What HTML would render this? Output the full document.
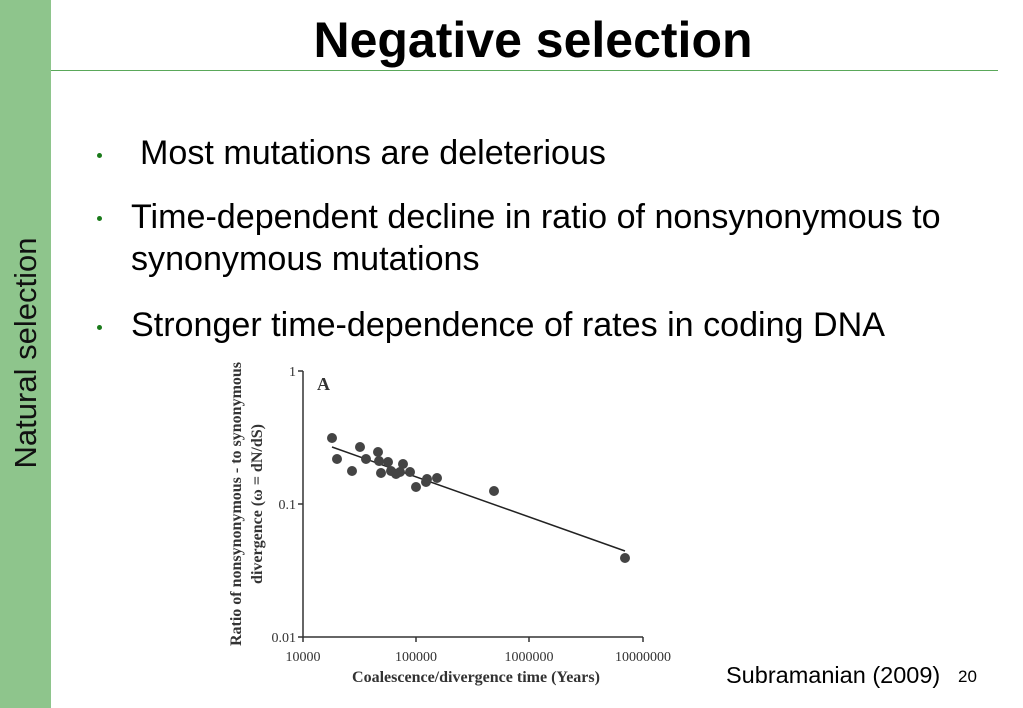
<!DOCTYPE html>
<html><head><meta charset="utf-8"><style>
body{margin:0;width:1023px;height:708px;position:relative;background:#fff;font-family:"Liberation Sans",Arial,sans-serif;overflow:hidden}
.side{position:absolute;left:0;top:0;width:51px;height:708px;background:#8ec58c}
.vt{position:absolute;left:26px;top:353px;transform:translate(-50%,-50%) rotate(-90deg);font-size:31px;white-space:nowrap;color:#111}
.hl{position:absolute;left:51px;top:70px;width:947px;height:1px;background:#5aa85a}
.t{position:absolute;top:12px;left:51px;width:964px;text-align:center;font-weight:bold;font-size:50px;line-height:56px}
.b{position:absolute;font-size:34.1px;line-height:42px;color:#000;white-space:nowrap}
.dot{position:absolute;width:5px;height:5px;border-radius:50%;background:#1a7a1a}
.s{position:absolute;font-size:23.5px}
</style></head><body>
<div class="side"></div><div class="vt">Natural selection</div>
<div class="t">Negative selection</div>
<div class="hl"></div>
<div class="dot" style="left:97px;top:153px"></div>
<div class="b" style="left:140px;top:132px">Most mutations are deleterious</div>
<div class="dot" style="left:97px;top:216px"></div>
<div class="b" style="left:131px;top:196px">Time-dependent decline in ratio of nonsynonymous to<br>synonymous mutations</div>
<div class="dot" style="left:97px;top:325px"></div>
<div class="b" style="left:131px;top:304px">Stronger time-dependence of rates in coding DNA</div>
<svg style="position:absolute;left:0;top:0" width="1023" height="708" font-family="Liberation Serif,serif">
<g stroke="#333" stroke-width="1.5" fill="none">
<path d="M303 371V637H643"/>
<path d="M298 371H303M298 504H303M298 637H303M303 637v5M416 637v5M529 637v5M643 637v5"/>
<path d="M332 447L625 551" stroke="#222"/>
</g>
<g font-size="14" fill="#333" text-anchor="end">
<text x="296" y="376">1</text><text x="296" y="509">0.1</text><text x="296" y="642">0.01</text>
</g>
<g font-size="14" fill="#333" text-anchor="middle">
<text x="303" y="661">10000</text><text x="416" y="661">100000</text><text x="529" y="661">1000000</text><text x="643" y="661">10000000</text>
</g>
<text x="476" y="682" font-size="16" font-weight="bold" text-anchor="middle" fill="#333">Coalescence/divergence time (Years)</text>
<text x="317" y="390" font-size="18" font-weight="bold" fill="#333">A</text>
<g transform="translate(241,504) rotate(-90)" font-size="16" font-weight="bold" fill="#333" text-anchor="middle">
<text x="0" y="0">Ratio of nonsynonymous - to synonymous</text>
<text x="0" y="21">divergence (ω = dN/dS)</text>
</g>
<g fill="#444">
<circle cx="332" cy="438" r="5"/><circle cx="337" cy="459" r="5"/><circle cx="352" cy="471" r="5"/><circle cx="360" cy="447" r="5"/><circle cx="366" cy="459" r="5"/><circle cx="378" cy="452" r="5"/><circle cx="379" cy="461" r="5"/><circle cx="381" cy="473" r="5"/><circle cx="388" cy="462" r="5"/><circle cx="391" cy="471" r="5"/><circle cx="396" cy="474" r="5"/><circle cx="400" cy="472" r="5"/><circle cx="403" cy="464" r="5"/><circle cx="410" cy="472" r="5"/><circle cx="416" cy="487" r="5"/><circle cx="426" cy="482" r="5"/><circle cx="427" cy="479" r="5"/><circle cx="437" cy="478" r="5"/><circle cx="494" cy="491" r="5"/><circle cx="625" cy="558" r="5"/>
</g>
</svg>
<div class="s" style="left:726px;top:662px">Subramanian (2009)</div>
<div class="s" style="left:958px;top:667px;font-size:17px">20</div>
</body></html>
